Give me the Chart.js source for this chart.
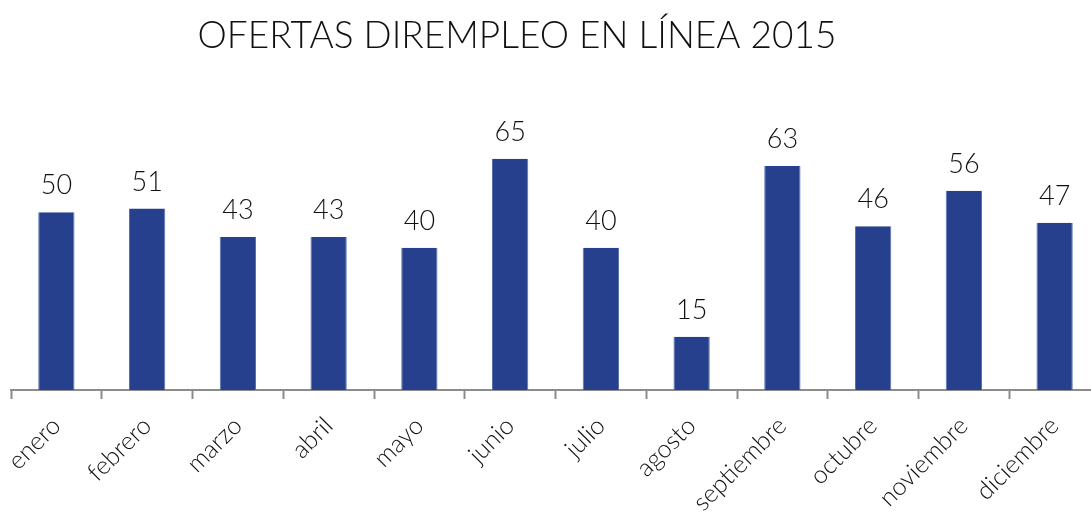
<!DOCTYPE html>
<html>
<head>
<meta charset="utf-8">
<script src="https://cdn.jsdelivr.net/npm/chart.js@4.4.0/dist/chart.umd.min.js"></script>
<style>
  html, body { margin: 0; padding: 0; background: #fff; overflow: hidden; }
  #caja { width: 1091px; height: 512px; overflow: hidden; }
  #caja canvas { display: block; }
</style>
</head>
<body>
<div id="caja"><canvas id="graficoBarras" width="1100" height="512" style="width:1100px;height:512px"></canvas></div>
<script>
const titulo = 'OFERTAS DIREMPLEO EN LÍNEA 2015';
const meses = ['enero', 'febrero', 'marzo', 'abril', 'mayo', 'junio', 'julio',
               'agosto', 'septiembre', 'octubre', 'noviembre', 'diciembre'];
const ofertas = [50, 51, 43, 43, 40, 65, 40, 15, 63, 46, 56, 47];

const fuente = 'Lato, "Open Sans", sans-serif';

// titulo y etiquetas encima de cada barra
const etiquetas = {
    id: 'etiquetas',
    afterDatasetsDraw(chart) {
        const ctx = chart.ctx;
        ctx.save();
        ctx.fillStyle = '#111';
        ctx.textAlign = 'center';
        ctx.textBaseline = 'alphabetic';
        ctx.font = '300 27px ' + fuente;
        chart.getDatasetMeta(0).data.forEach((barra, i) => {
            ctx.fillText(ofertas[i], barra.x, barra.y - 18);
        });
        ctx.font = '300 37px ' + fuente;
        ctx.fillText(titulo, 517, 48);
        ctx.restore();
    }
};

const contexto = document.querySelector('#graficoBarras');

new Chart(contexto, {
    type: 'bar',
    data: {
        labels: meses,
        datasets: [{
            data: ofertas,
            backgroundColor: '#26408e',
            borderColor: '#5b72b0',
            borderWidth: { top: 0, left: 1, right: 1, bottom: 0 },
            categoryPercentage: 1,
            barPercentage: 0.4
        }]
    },
    options: {
        responsive: false,
        animation: false,
        layout: { padding: { top: 141, left: 11, right: 0, bottom: 0 } },
        plugins: {
            legend: { display: false },
            title: { display: false },
            tooltip: { enabled: false }
        },
        scales: {
            x: {
                offset: true,
                border: { color: '#8c8c8c', width: 2 },
                grid: {
                    offset: true,
                    drawOnChartArea: false,
                    drawTicks: true,
                    tickLength: 9,
                    tickWidth: 2,
                    color: '#8c8c8c'
                },
                ticks: {
                    minRotation: 45,
                    maxRotation: 45,
                    color: '#111',
                    padding: 12,
                    font: { family: fuente, size: 25, weight: '300' }
                },
                afterFit: (eje) => {
                    eje.height = 122;
                    eje.paddingLeft = 0;
                    eje.paddingRight = 0;
                }
            },
            y: {
                display: false,
                min: 0,
                max: 70
            }
        }
    },
    plugins: [etiquetas]
});
</script>
</body>
</html>
